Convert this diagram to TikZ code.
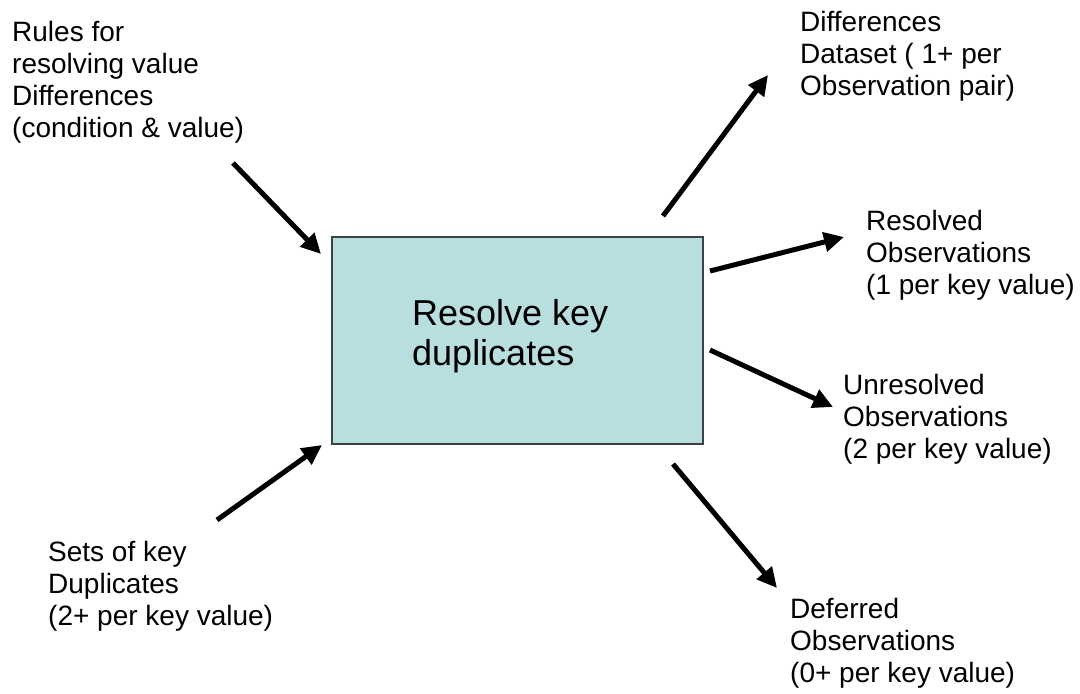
\documentclass[tikz,border=0pt]{standalone}
\usepackage{fontspec}
\setmainfont{Liberation Sans}
\usetikzlibrary{arrows.meta}
\definecolor{boxfill}{RGB}{185,222,224}
\definecolor{boxline}{RGB}{60,66,66}
\begin{document}
\begin{tikzpicture}[x=1pt,y=-1pt,
  lbl/.style={anchor=north west,align=left,inner sep=0pt,font=\fontsize{28}{32}\selectfont},
  arr/.style={line width=5pt,-{Triangle[length=20pt,width=19pt]}},
  procbox/.style={draw=boxline,line width=1.5pt,fill=boxfill}]
\useasboundingbox (0,0) rectangle (1080,694);
\node[procbox,minimum width=371pt,minimum height=207pt,anchor=north west] (box) at (331,236) {};
\node[anchor=north west,align=left,inner sep=0pt,font=\fontsize{36}{40}\selectfont] (main) at (412,299) {Resolve key\\duplicates};
\node[lbl] (rules) at (12,21.5) {Rules for\\resolving value\\Differences\\(condition \& value)};
\node[lbl] (sets) at (48,541.5) {Sets of key\\Duplicates\\(2+ per key value)};
\node[lbl] (diff) at (800,11.5) {Differences\\Dataset ( 1+ per\\Observation pair)};
\node[lbl] (res) at (866,210.5) {Resolved\\Observations\\(1 per key value)};
\node[lbl] (unres) at (843,374.5) {Unresolved\\Observations\\(2 per key value)};
\node[lbl] (def) at (790,598.5) {Deferred\\Observations\\(0+ per key value)};
\coordinate (a1) at (233,163); \coordinate (b1) at (321,254);
\coordinate (a2) at (217,520); \coordinate (b2) at (322,445);
\coordinate (a3) at (663,216); \coordinate (b3) at (768,75);
\coordinate (a4) at (710,271); \coordinate (b4) at (844,237);
\coordinate (a5) at (710,350); \coordinate (b5) at (833,407);
\coordinate (a6) at (673,464); \coordinate (b6) at (777,588);
\draw[arr] (a1) -- (b1);
\draw[arr] (a2) -- (b2);
\draw[arr] (a3) -- (b3);
\draw[arr] (a4) -- (b4);
\draw[arr] (a5) -- (b5);
\draw[arr] (a6) -- (b6);
\end{tikzpicture}
\end{document}
